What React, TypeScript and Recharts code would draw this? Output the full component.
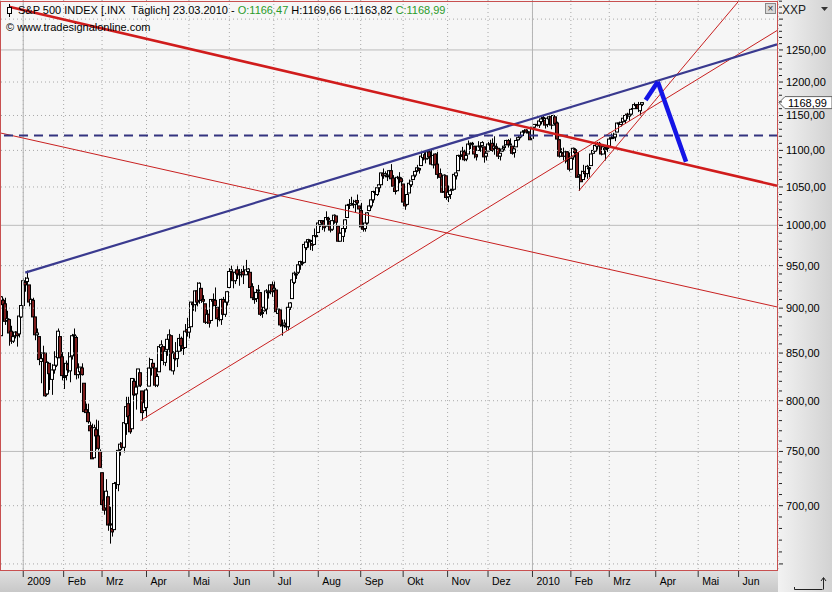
import React from 'react';
import {
  ComposedChart,
  Bar,
  XAxis,
  YAxis,
  CartesianGrid,
  ReferenceLine,
} from 'recharts';

// daily candles [open, high, low, close]
const dec08 = [[869,914,869,913],[909,911,895,904],[905,912,881,885],[886,897,879,888],[887,888,858,872],[874,880,860,863],[863,869,861,868],[869,874,866,873],[873,873,857,869],[871,891,867,891],[890,910,889,903]];
const jan09 = [[903,935,899,932],[930,936,919,927],[931,944,927,935],[927,927,902,907],[905,911,896,910],[909,912,887,890],[890,890,864,870],[870,877,862,872],[868,868,837,843],[841,851,818,844],[844,858,830,850],[850,850,804,805],[807,841,806,840],[839,839,811,828],[822,838,806,832],[832,852,828,837],[837,850,835,846],[845,877,845,874],[868,868,844,845],[846,851,821,826]];
const feb09 = [[824,830,812,825],[826,842,821,839],[838,851,829,832],[831,850,819,846],[847,871,843,869],[869,877,862,870],[867,869,822,827],[827,839,823,834],[830,835,808,835],[834,839,826,827],[818,818,789,789],[791,797,781,788],[788,797,777,779],[775,779,755,770],[773,777,743,743],[744,776,744,773],[771,781,752,765],[765,780,751,753],[750,752,735,735]];
const mar09 = [[730,730,699,701],[705,712,692,696],[698,724,698,713],[708,708,678,683],[684,699,667,683],[680,689,673,677],[679,720,679,720],[720,731,715,721],[719,751,713,751],[752,759,746,757],[758,774,753,754],[754,778,749,778],[777,804,766,794],[797,804,782,784],[785,788,767,769],[772,823,772,823],[820,823,805,806],[807,826,791,814],[815,833,815,833],[829,829,814,816],[810,810,780,788],[790,810,790,798]];
const apr09 = [[793,813,783,811],[815,845,815,834],[834,843,826,843],[839,839,822,835],[834,834,814,816],[816,828,814,825],[830,857,830,857],[856,864,846,859],[857,857,837,842],[840,852,836,852],[854,870,847,865],[865,876,860,870],[869,869,832,832],[831,852,827,850],[850,862,842,844],[844,852,835,852],[852,871,852,866],[866,868,852,858],[858,865,848,855],[856,882,856,874],[876,889,868,873]];
const may09 = [[873,880,866,878],[879,907,879,907],[906,908,897,904],[904,920,896,920],[920,930,902,907],[909,930,905,929],[923,923,906,909],[910,915,896,908],[905,905,882,884],[884,898,882,893],[893,897,878,883],[886,910,886,910],[910,917,902,908],[909,924,899,903],[901,901,879,888],[889,896,885,887],[887,911,881,910],[910,913,892,893],[893,909,890,907],[907,920,903,919]];
const jun09 = [[924,947,924,943],[943,950,938,945],[942,942,923,932],[932,943,928,942],[945,951,934,940],[940,946,926,939],[940,946,936,942],[943,950,928,939],[939,957,939,945],[943,947,937,946],[942,942,919,924],[925,929,911,912],[911,919,905,911],[911,922,907,918],[920,927,915,921],[918,918,891,893],[894,898,889,895],[897,910,896,901],[899,922,893,920],[918,922,911,919],[920,928,916,927],[927,931,913,919]];
const jul09 = [[921,931,920,923],[921,921,896,896],[894,899,886,899],[898,898,879,881],[881,887,869,880],[881,887,878,883],[880,884,875,879],[879,901,875,901],[901,907,898,906],[911,933,911,933],[930,943,928,941],[940,941,934,940],[942,951,940,951],[951,956,945,955],[953,960,950,954],[954,979,953,976],[972,979,969,979],[979,983,972,982],[981,982,969,980],[977,977,968,975],[976,996,976,987],[986,994,985,987]];
const aug09 = [[991,1004,991,1003],[1001,1006,998,1006],[1006,1006,994,1003],[1005,1008,992,997],[999,1018,999,1010],[1009,1011,1002,1007],[1005,1005,991,994],[995,1013,993,1006],[1006,1014,1002,1013],[1012,1012,994,1004],[999,999,979,980],[980,991,980,990],[986,999,979,996],[996,1008,991,1007],[1010,1027,1010,1026],[1027,1034,1021,1026],[1026,1037,1026,1028],[1027,1033,1022,1028],[1027,1033,1016,1031],[1032,1040,1023,1029],[1025,1025,1014,1021]];
const sep09 = [[1019,1029,996,998],[997,1001,992,995],[996,1004,992,1003],[1003,1017,1001,1016],[1019,1026,1018,1025],[1025,1036,1022,1033],[1033,1045,1029,1044],[1044,1048,1039,1043],[1040,1050,1038,1049],[1049,1056,1043,1053],[1053,1069,1053,1069],[1068,1075,1061,1065],[1066,1071,1064,1068],[1065,1067,1058,1065],[1066,1073,1064,1072],[1072,1081,1060,1061],[1062,1066,1045,1051],[1050,1056,1040,1044],[1045,1065,1045,1063],[1063,1070,1055,1061],[1061,1063,1047,1057]];
const oct09 = [[1054,1054,1030,1030],[1029,1031,1020,1025],[1027,1042,1026,1040],[1042,1060,1042,1055],[1053,1058,1050,1058],[1060,1071,1060,1065],[1066,1073,1063,1071],[1072,1080,1070,1076],[1075,1076,1068,1073],[1079,1094,1079,1092],[1090,1097,1086,1097],[1094,1094,1082,1088],[1089,1099,1087,1098],[1098,1099,1086,1091],[1091,1101,1080,1081],[1080,1095,1075,1093],[1095,1096,1074,1080],[1081,1098,1061,1067],[1068,1075,1058,1063],[1061,1063,1042,1043],[1044,1067,1044,1066],[1065,1065,1033,1036]];
const nov09 = [[1037,1052,1030,1043],[1040,1046,1034,1045],[1047,1062,1045,1047],[1047,1067,1047,1067],[1065,1072,1060,1069],[1072,1094,1072,1093],[1092,1096,1087,1093],[1094,1105,1093,1099],[1098,1101,1085,1087],[1088,1097,1085,1093],[1095,1114,1095,1109],[1108,1111,1102,1110],[1109,1112,1103,1110],[1106,1106,1089,1095],[1094,1095,1086,1091],[1100,1113,1100,1106],[1106,1108,1098,1106],[1107,1113,1107,1111],[1105,1105,1083,1091],[1092,1097,1086,1096]];
const dec09 = [[1099,1112,1099,1109],[1109,1115,1106,1109],[1110,1117,1098,1100],[1103,1120,1094,1106],[1105,1110,1100,1103],[1103,1103,1088,1092],[1092,1096,1086,1096],[1099,1105,1098,1102],[1104,1109,1100,1106],[1108,1115,1108,1114],[1114,1116,1104,1108],[1109,1117,1108,1109],[1106,1106,1094,1096],[1097,1103,1090,1102],[1105,1118,1105,1114],[1115,1120,1114,1118],[1119,1122,1117,1121],[1121,1127,1121,1126],[1127,1130,1124,1128],[1129,1130,1125,1126],[1125,1127,1122,1126],[1126,1127,1115,1115]];
const jan10 = [[1117,1134,1117,1133],[1133,1137,1130,1137],[1136,1140,1134,1137],[1136,1143,1132,1142],[1141,1145,1137,1145],[1146,1150,1142,1147],[1143,1143,1131,1136],[1137,1148,1133,1146],[1145,1150,1144,1148],[1148,1148,1130,1136],[1136,1151,1136,1150],[1148,1148,1129,1138],[1139,1141,1115,1116],[1115,1116,1090,1092],[1092,1103,1092,1097],[1096,1104,1086,1092],[1092,1100,1082,1098],[1098,1099,1077,1085],[1087,1097,1071,1074]];
const feb10 = [[1074,1090,1074,1089],[1091,1104,1087,1103],[1101,1103,1094,1097],[1097,1097,1063,1063],[1064,1067,1045,1066],[1066,1072,1057,1057],[1060,1080,1060,1071],[1071,1074,1063,1068],[1068,1080,1061,1078],[1076,1077,1063,1076],[1079,1095,1079,1095],[1096,1101,1095,1100],[1099,1108,1098,1107],[1106,1112,1101,1109],[1110,1112,1104,1108],[1107,1109,1093,1095],[1095,1108,1095,1105],[1101,1103,1086,1103],[1104,1108,1098,1104]];
const mar10 = [[1106,1117,1106,1116],[1117,1124,1116,1118],[1119,1125,1116,1119],[1119,1123,1113,1123],[1126,1139,1126,1139],[1139,1141,1136,1138],[1137,1145,1134,1140],[1141,1148,1140,1146],[1143,1150,1138,1150],[1152,1154,1145,1150],[1149,1151,1142,1151],[1152,1161,1150,1159],[1160,1169,1160,1166],[1166,1167,1161,1166],[1166,1170,1155,1160],[1157,1167,1150,1166],[1166.47,1169.66,1163.82,1168.99]];

// x axis: trading-day index of each month start
const monthTicks = [11, 31, 50, 72, 93, 113, 135, 157, 178, 199, 221, 241, 263, 282, 301, 324, 345, 365];
const monthLabels = ['2009', 'Feb', 'Mrz', 'Apr', 'Mai', 'Jun', 'Jul', 'Aug', 'Sep', 'Okt', 'Nov', 'Dez', '2010', 'Feb', 'Mrz', 'Apr', 'Mai', 'Jun'];
const yearStarts = [11, 263];
const totalDays = 385;

const priceTicks = Array.from({ length: 69 }, (_, k) => 650 + k * 10);
const gridPrices = [650, 700, 750, 800, 850, 900, 950, 1000, 1050, 1100, 1150, 1200, 1250, 1300];
const solidPrices = [750, 1000, 1250];
const lastPrice = 1168.99;

// drawn trend lines: [[dayIndex, price], [dayIndex, price]]
const thickRedLine = [[4, 1320.6], [384, 1051.7]];
const thinRedDown = [[0, 1124.5], [384, 901.4]];
const thinRedUp = [[69, 780], [384, 1281.2]];
const thinRedSteep = [[286, 1045], [365, 1329.9]];
const blueResistance = [[12, 941.6], [384, 1258.8]];
const blueDashed = 1121;
const blueArrow = [[319, 1173], [325, 1200.6], [339, 1084.4]];

const months = [dec08, jan09, feb09, mar09, apr09, may09, jun09, jul09, aug09, sep09, oct09, nov09, dec09, jan10, feb10, mar10];
const candles = months.flat();

const data = Array.from({ length: totalDays }, (_, i) => {
  const k = candles[i];
  return k
    ? { i, o: k[0], h: k[1], l: k[2], c: k[3], range: [k[2], k[1]] }
    : { i, range: null };
});

const FONT = '"Liberation Sans", Arial, sans-serif';

const Candle = (props: any) => {
  const { x, y, width, height, payload } = props;
  if (!payload || payload.h == null) return null;
  const { o, h, l, c } = payload;
  const top = Math.min(y, y + height);
  const bot = Math.max(y, y + height);
  const span = Math.log(h) - Math.log(l);
  const py = (v: number) => (span > 0 ? top + ((bot - top) * (Math.log(h) - Math.log(v))) / span : top);
  const cx = Math.round(x + width / 2) + 0.5;
  const bt = py(Math.max(o, c));
  const bb = py(Math.min(o, c));
  const up = c >= o;
  return (
    <g>
      <line x1={cx} x2={cx} y1={top} y2={bot} stroke="#000" strokeWidth={1} />
      <rect x={cx - 2} y={bt} width={3} height={Math.max(bb - bt, 1)} fill={up ? '#ffffff' : '#7d1c1c'} stroke="#000" strokeWidth={1} />
    </g>
  );
};

const MonthTick = ({ x, y, payload }: any) => {
  const idx = monthTicks.indexOf(payload.value);
  return (
    <g>
      <line x1={x} x2={x} y1={y + 1} y2={y + 7} stroke="#333" />
      <text x={x + 4} y={y + 15} fontSize={10.5} fontFamily={FONT} fill="#000">
        {monthLabels[idx]}
      </text>
    </g>
  );
};

const PriceTick = ({ x, y, payload }: any) => {
  const v = payload.value;
  const major = v % 50 === 0;
  return (
    <g>
      <line x1={x + 1} x2={x + (major ? 5 : 4)} y1={y} y2={y} stroke="#222" />
      {major && v >= 700 && v <= 1250 && (
        <text x={x + 8} y={y + 4} fontSize={11} fontFamily={FONT} fill="#000">
          {v},00
        </text>
      )}
    </g>
  );
};

const PriceMarker = ({ viewBox }: any) => {
  const x0 = viewBox.x + viewBox.width + 1;
  const y = viewBox.y;
  return (
    <g>
      <polygon
        points={`${x0},${y} ${x0 + 6},${y - 6} ${x0 + 53},${y - 6} ${x0 + 53},${y + 6} ${x0 + 6},${y + 6}`}
        fill="#ffffff"
        stroke="#666"
      />
      <text x={x0 + 9} y={y + 4} fontSize={11} fontFamily={FONT} fill="#000">
        1168,99
      </text>
    </g>
  );
};

const seg = (pts: number[][]) => pts.map(([x, y]) => ({ x, y }));

export default function App() {
  return (
    <div style={{ position: 'absolute', left: 0, top: 0, width: 832, height: 592, background: '#f4f4f4', overflow: 'hidden' }}>
      <div style={{ position: 'absolute', left: 778, top: 0, width: 54, height: 592, background: 'linear-gradient(to right, #f2f2f2, #d2d2d2)' }} />
      <div style={{ position: 'absolute', left: 0, top: 570, width: 778, height: 22, background: 'linear-gradient(#e0e0e0, #c8c8c8)' }} />
      <ComposedChart
        width={832}
        height={592}
        data={data}
        margin={{ top: 0, right: 0, left: 0, bottom: 0 }}
        barCategoryGap={0}
        style={{ position: 'absolute', left: 0, top: 0 }}
      >
        <CartesianGrid horizontal={false} stroke="#a8a8a8" strokeDasharray="1 3" fill="#f6f6f6" />
        {gridPrices.map((p) => (
          <ReferenceLine
            key={`g${p}`}
            y={p}
            stroke={solidPrices.includes(p) ? '#bcbcbc' : '#a8a8a8'}
            strokeDasharray={solidPrices.includes(p) ? undefined : '1 3'}
          />
        ))}
        {yearStarts.map((d) => (
          <ReferenceLine key={`y${d}`} x={d} stroke="#b4b4b4" />
        ))}
        <XAxis
          dataKey="i"
          type="category"
          ticks={monthTicks}
          interval={0}
          height={22}
          tick={<MonthTick />}
          tickLine={false}
          axisLine={false}
          tickSize={0}
          tickMargin={0}
        />
        <YAxis
          orientation="right"
          type="number"
          scale="log"
          domain={[645, 1332]}
          allowDataOverflow
          ticks={priceTicks}
          interval={0}
          width={54}
          tick={<PriceTick />}
          tickLine={false}
          axisLine={false}
          tickSize={0}
          tickMargin={0}
        />
        <Bar dataKey="range" shape={<Candle />} isAnimationActive={false} />
        <ReferenceLine segment={seg(thinRedDown)} stroke="#c82020" strokeWidth={1} />
        <ReferenceLine segment={seg(thinRedUp)} stroke="#c82020" strokeWidth={1} />
        <ReferenceLine segment={seg(thinRedSteep)} stroke="#c82020" strokeWidth={1} />
        <ReferenceLine y={blueDashed} stroke="#33337f" strokeWidth={2} strokeDasharray="9 6" />
        <ReferenceLine segment={seg(blueResistance)} stroke="#3a3a8f" strokeWidth={2.2} />
        <ReferenceLine segment={seg(thickRedLine)} stroke="#d01c1c" strokeWidth={2.6} />
        <ReferenceLine segment={seg([blueArrow[0], blueArrow[1]])} stroke="#1414e6" strokeWidth={4.5} />
        <ReferenceLine segment={seg([blueArrow[1], blueArrow[2]])} stroke="#1414e6" strokeWidth={4.5} />
        <ReferenceLine y={lastPrice} stroke="none" label={<PriceMarker />} />
      </ComposedChart>

      {/* plot frame */}
      <div style={{ position: 'absolute', left: 0, top: 1, width: 778, height: 570, border: '1px solid #c85050', boxSizing: 'border-box', pointerEvents: 'none' }} />

      {/* header */}
      <svg style={{ position: 'absolute', left: 0, top: 0 }} width={20} height={20}>
        <line x1={9.5} x2={9.5} y1={4} y2={17} stroke="#000" />
        <rect x={7.5} y={7.5} width={4} height={6} fill="#fff" stroke="#000" />
      </svg>
      <div style={{ position: 'absolute', left: 18, top: 3, fontFamily: FONT, fontSize: 11, lineHeight: '14px', whiteSpace: 'pre', color: '#000' }}>
        {'S&P 500 INDEX [.INX  Täglich] 23.03.2010 - '}
        <span style={{ color: '#2a9a2a' }}>O:1166,47</span>
        {' H:1169,66 L:1163,82 '}
        <span style={{ color: '#2a9a2a' }}>C:1168,99</span>
      </div>
      <div style={{ position: 'absolute', left: 6, top: 20, fontFamily: FONT, fontSize: 11, lineHeight: '14px', whiteSpace: 'pre', color: '#000' }}>
        {'© www.tradesignalonline.com'}
      </div>

      {/* close box and axis caption */}
      <div style={{ position: 'absolute', left: 765, top: 3, width: 11, height: 11, border: '1px solid #888', background: '#d8d8d8', boxSizing: 'border-box', fontFamily: FONT, fontSize: 10, lineHeight: '9px', textAlign: 'center', color: '#333' }}>
        ×
      </div>
      <div style={{ position: 'absolute', left: 782, top: 3, fontFamily: FONT, fontSize: 12, lineHeight: '14px', color: '#222' }}>XXP</div>
      <svg style={{ position: 'absolute', left: 820, top: 6 }} width={10} height={8}>
        <polygon points="1,1 8,1 4.5,5" fill="#333" />
      </svg>
      <svg style={{ position: 'absolute', left: 788, top: 574 }} width={44} height={18}>
        <polyline points="6.5,13 6.5,15.5 34.5,15.5" fill="none" stroke="#222" />
        <line x1={35.5} x2={35.5} y1={15.5} y2={4} stroke="#222" />
        <polyline points="33,7 35.5,3.5 38,7" fill="none" stroke="#222" />
      </svg>
    </div>
  );
}
